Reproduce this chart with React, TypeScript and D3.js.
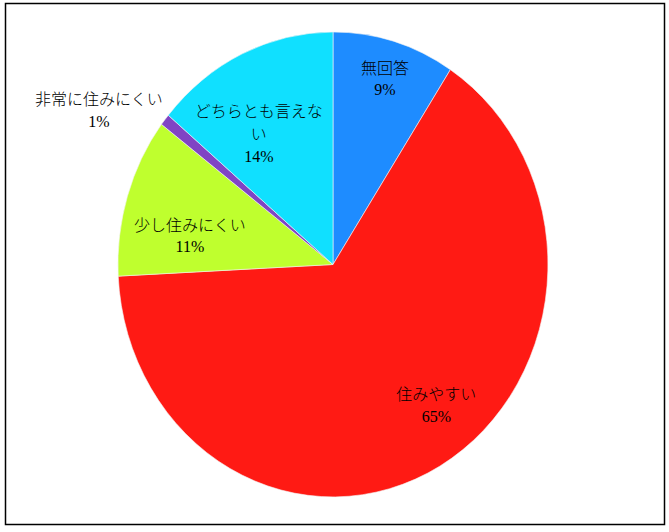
import React from 'react';
import * as d3 from 'd3';

// slices clockwise from 12 o'clock
const categories = ['無回答', '住みやすい', '少し住みにくい', '非常に住みにくい', 'どちらとも言えない'];
const values = [9.2, 65.0, 11.1, 0.8, 13.9];
const percentLabels = ['9%', '65%', '11%', '1%', '14%'];
// how each label wraps in the original
const labelLines = [['無回答'], ['住みやすい'], ['少し住みにくい'], ['非常に住みにくい'], ['どちらとも言えな', 'い']];
const colors = ['#1e8cff', '#ff1a14', '#bfff2e', '#8044c4', '#10e0ff'];

// label nudges from the 0.75 radius centroid, px
const labelNudge = [[6, -19], [23, -11], [11, 22], [-108, -46], [-6, 27]];

const W = 669;
const H = 532;
const cx = 333;
const cy = 264.5;
const rx = 215;
const ry = 232.5;
const lineH = 23;

const App: React.FC = () => {
  const pie = d3.pie<number>().sort(null).value(d => d)(values);
  const arc = d3.arc<d3.PieArcDatum<number>>().innerRadius(0).outerRadius(1);

  return (
    <svg
      width={W}
      height={H}
      style={{ position: 'absolute', left: 0, top: 0, background: '#fff' }}
    >
      <rect x={5.5} y={3.5} width={659} height={521} fill="#fff" stroke="#000" strokeWidth={1.5} />

      {/* pie, drawn on unit circle then stretched into ellipse */}
      <g transform={`translate(${cx},${cy}) scale(${rx},${ry})`}>
        {pie.map((d, i) => (
          <path
            key={i}
            d={arc(d) || ''}
            fill={colors[i]}
            stroke="#f4f4f4"
            strokeWidth={0.6}
            vectorEffect="non-scaling-stroke"
          />
        ))}
      </g>

      {/* labels */}
      <g fontSize={16} fill="#000" textAnchor="middle">
        {pie.map((d, i) => {
          const mid = (d.startAngle + d.endAngle) / 2;
          const x = cx + rx * 0.75 * Math.sin(mid) + labelNudge[i][0];
          const y = cy - ry * 0.75 * Math.cos(mid) + labelNudge[i][1];
          const lines = [...labelLines[i], percentLabels[i]];
          const top = y - ((lines.length - 1) * lineH) / 2;
          return (
            <g key={categories[i]}>
              {lines.map((t, j) => (
                <text
                  key={j}
                  x={x}
                  y={top + j * lineH}
                  dominantBaseline="central"
                  fontFamily={j === lines.length - 1 ? '"Liberation Serif", serif' : '"Noto Sans CJK JP", sans-serif'}
                  fontWeight={300}
                >
                  {t}
                </text>
              ))}
            </g>
          );
        })}
      </g>
    </svg>
  );
};

export default App;
